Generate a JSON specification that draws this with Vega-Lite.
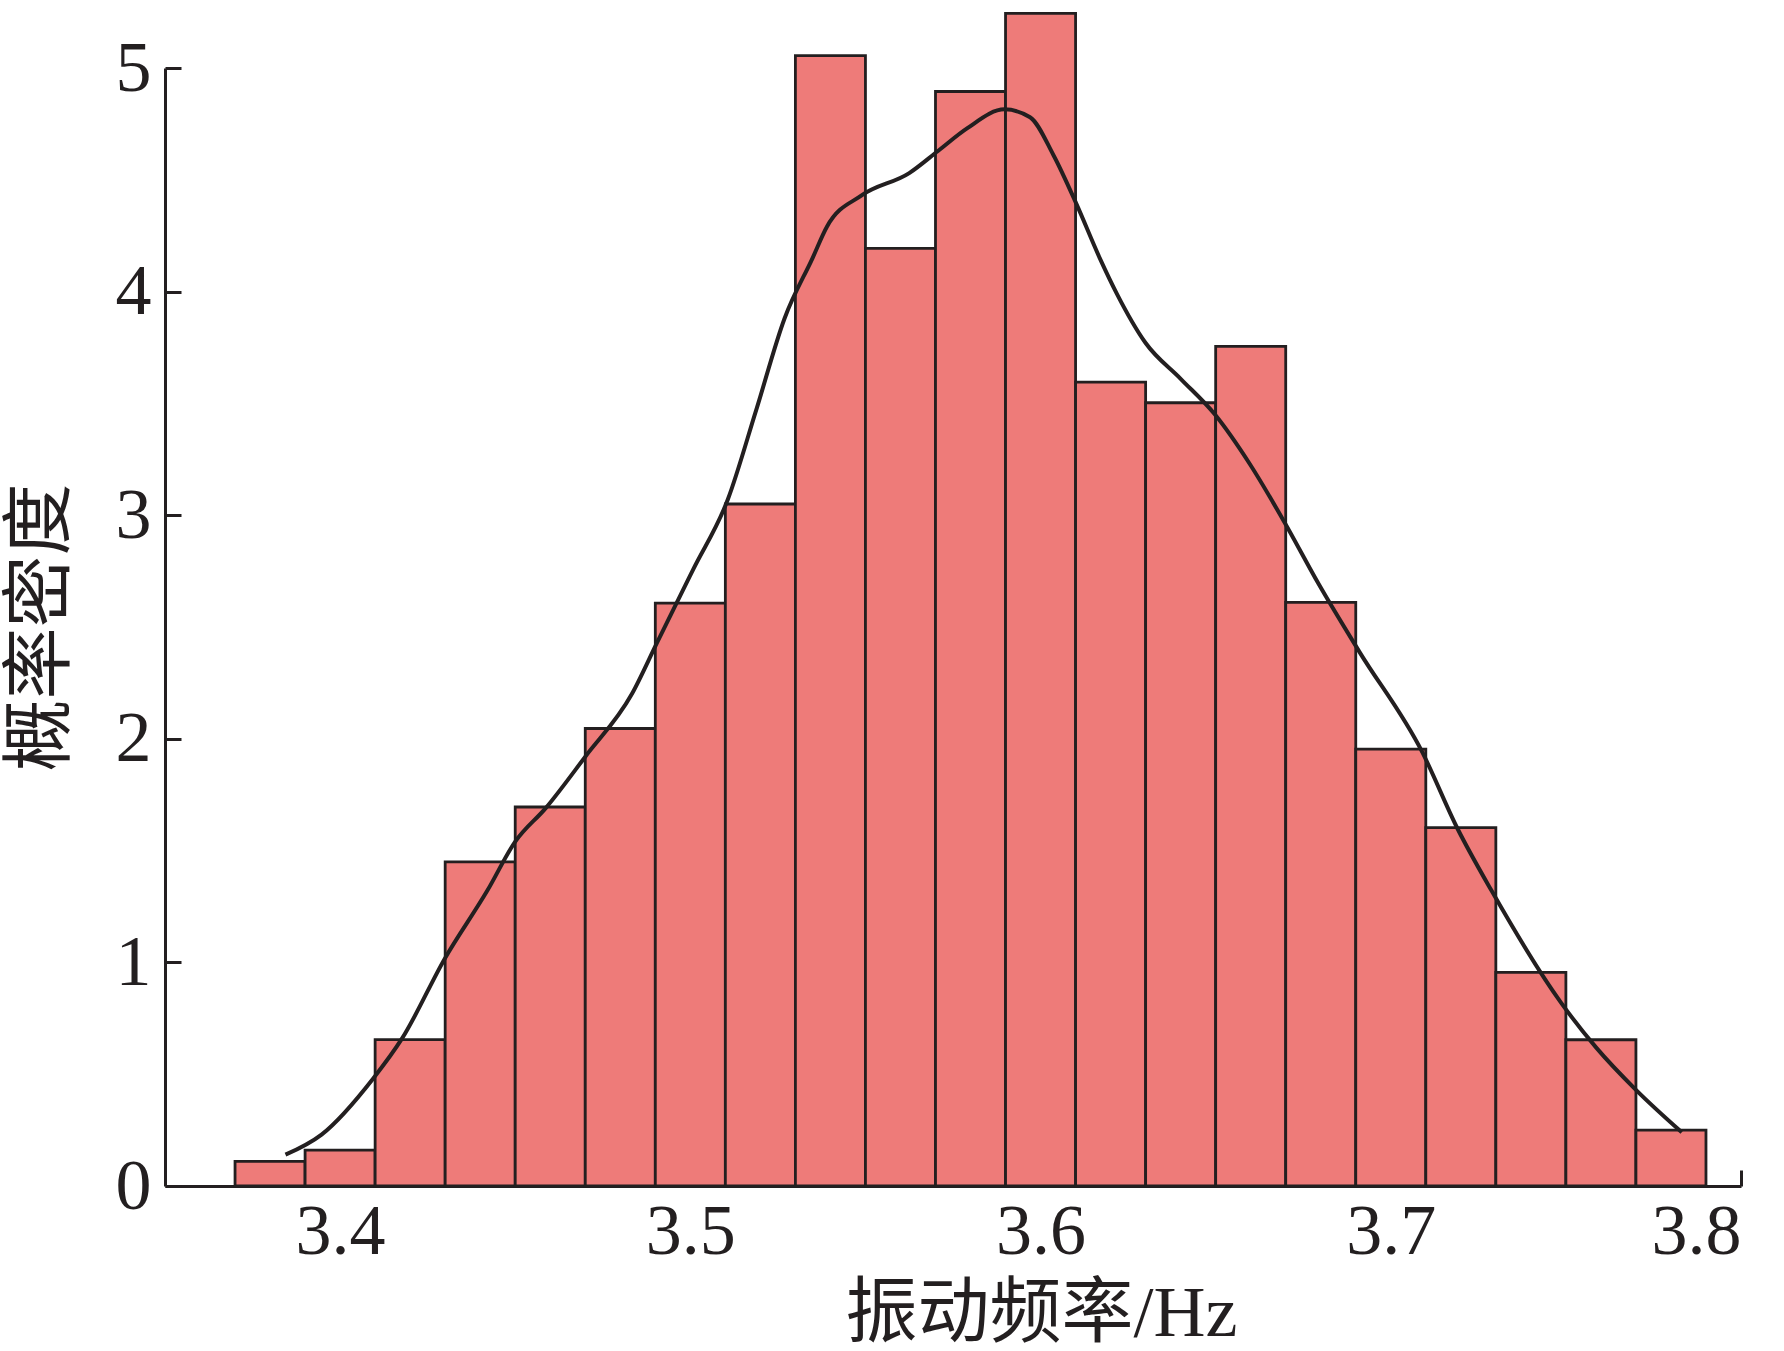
{
  "$schema": "https://vega.github.io/schema/vega-lite/v6.json",
  "width": 1576,
  "height": 1118,
  "autosize": {"type": "none"},
  "padding": {"left": 165, "top": 68, "right": 43, "bottom": 165},
  "background": "white",
  "config": {
    "view": {"stroke": null},
    "font": "Liberation Serif",
    "axis": {
      "domainColor": "#231F20",
      "domainWidth": 3,
      "tickColor": "#231F20",
      "tickWidth": 3,
      "tickSize": -16,
      "grid": false,
      "labelFont": "Liberation Serif",
      "labelFontSize": 72,
      "labelColor": "#231F20",
      "titleFont": "Liberation Serif, Noto Sans CJK SC",
      "titleFontSize": 72,
      "titleFontWeight": "normal",
      "titleColor": "#231F20"
    }
  },
  "datasets": {
    "bins": [
      {"start": 3.37, "end": 3.39, "density": 0.11},
      {"start": 3.39, "end": 3.41, "density": 0.16},
      {"start": 3.41, "end": 3.43, "density": 0.655},
      {"start": 3.43, "end": 3.45, "density": 1.45},
      {"start": 3.45, "end": 3.47, "density": 1.695},
      {"start": 3.47, "end": 3.49, "density": 2.046},
      {"start": 3.49, "end": 3.51, "density": 2.607},
      {"start": 3.51, "end": 3.53, "density": 3.05},
      {"start": 3.53, "end": 3.55, "density": 5.055},
      {"start": 3.55, "end": 3.57, "density": 4.193},
      {"start": 3.57, "end": 3.59, "density": 4.895},
      {"start": 3.59, "end": 3.61, "density": 5.244},
      {"start": 3.61, "end": 3.63, "density": 3.595},
      {"start": 3.63, "end": 3.65, "density": 3.503},
      {"start": 3.65, "end": 3.67, "density": 3.755},
      {"start": 3.67, "end": 3.69, "density": 2.61},
      {"start": 3.69, "end": 3.71, "density": 1.954},
      {"start": 3.71, "end": 3.73, "density": 1.603},
      {"start": 3.73, "end": 3.75, "density": 0.955},
      {"start": 3.75, "end": 3.77, "density": 0.654},
      {"start": 3.77, "end": 3.79, "density": 0.25}
    ],
    "kde": [
      {"f": 3.3844, "d": 0.14},
      {"f": 3.3947, "d": 0.23},
      {"f": 3.4094, "d": 0.48},
      {"f": 3.4177, "d": 0.66},
      {"f": 3.43, "d": 1.02},
      {"f": 3.442, "d": 1.32},
      {"f": 3.45, "d": 1.54},
      {"f": 3.4587, "d": 1.69},
      {"f": 3.47, "d": 1.92},
      {"f": 3.4833, "d": 2.2},
      {"f": 3.4905, "d": 2.43},
      {"f": 3.5009, "d": 2.76},
      {"f": 3.5107, "d": 3.07},
      {"f": 3.5188, "d": 3.47},
      {"f": 3.5269, "d": 3.88},
      {"f": 3.5349, "d": 4.15},
      {"f": 3.539, "d": 4.29},
      {"f": 3.5489, "d": 4.43},
      {"f": 3.5625, "d": 4.53},
      {"f": 3.5708, "d": 4.63},
      {"f": 3.579, "d": 4.73},
      {"f": 3.5897, "d": 4.815},
      {"f": 3.597, "d": 4.78},
      {"f": 3.6037, "d": 4.61},
      {"f": 3.6103, "d": 4.39},
      {"f": 3.6169, "d": 4.15},
      {"f": 3.6218, "d": 3.99},
      {"f": 3.63, "d": 3.77},
      {"f": 3.64, "d": 3.61},
      {"f": 3.6498, "d": 3.45},
      {"f": 3.6597, "d": 3.23},
      {"f": 3.6696, "d": 2.97},
      {"f": 3.6795, "d": 2.69},
      {"f": 3.691, "d": 2.39},
      {"f": 3.709, "d": 1.94},
      {"f": 3.719, "d": 1.6},
      {"f": 3.7288, "d": 1.32},
      {"f": 3.7486, "d": 0.82},
      {"f": 3.7586, "d": 0.62},
      {"f": 3.77, "d": 0.43},
      {"f": 3.7831, "d": 0.24}
    ]
  },
  "layer": [
    {
      "data": {"name": "bins"},
      "mark": {"type": "bar", "fill": "#EE7B79", "stroke": "#231F20", "strokeWidth": 2.8, "clip": false},
      "encoding": {
        "x": {
          "field": "start", "type": "quantitative",
          "scale": {"domain": [3.35, 3.8], "nice": false, "zero": false},
          "axis": {
            "values": [3.4, 3.5, 3.6, 3.7, 3.8],
            "format": ".1f",
            "labelPadding": 26,
            "title": "振动频率/Hz",
            "titleX": 876,
            "titleY": 127,
            "titleAnchor": null,
            "titleAlign": "center",
            "titleBaseline": "middle"
          }
        },
        "x2": {"field": "end"},
        "y": {
          "field": "density", "type": "quantitative",
          "scale": {"domain": [0, 5], "nice": false},
          "axis": {
            "values": [0, 1, 2, 3, 4, 5],
            "format": "d",
            "labelPadding": 30,
            "title": "概率密度",
            "titleX": -125,
            "titleY": 559,
            "titleAngle": -90,
            "titleAlign": "center",
            "titleBaseline": "middle"
          }
        },
        "y2": {"datum": 0}
      }
    },
    {
      "data": {"name": "kde"},
      "mark": {"type": "line", "color": "#231F20", "strokeWidth": 4, "interpolate": "monotone", "clip": false},
      "encoding": {
        "x": {"field": "f", "type": "quantitative"},
        "y": {"field": "d", "type": "quantitative"}
      }
    }
  ]
}
